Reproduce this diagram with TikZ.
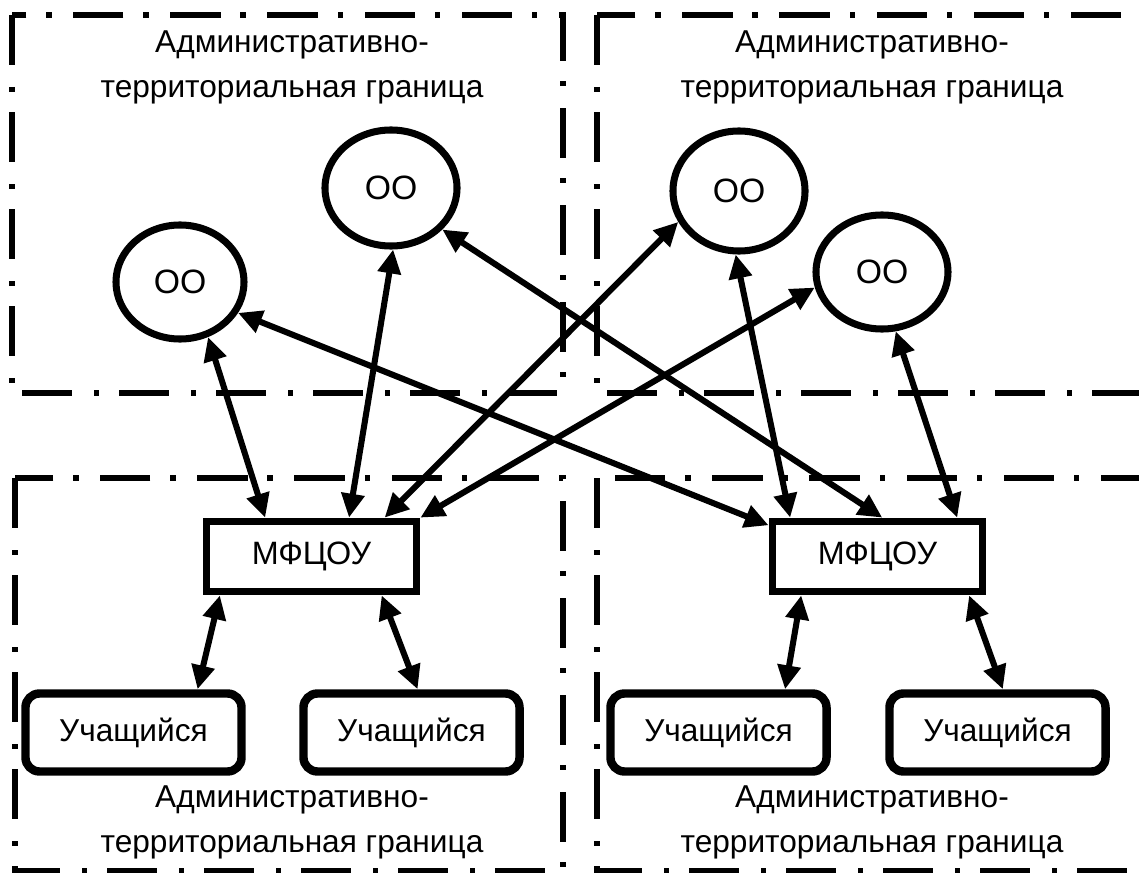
\documentclass[tikz,border=0pt]{standalone}
\usepackage{fontspec}
\setmainfont{Liberation Sans}
\usepackage{tikz}
\usetikzlibrary{shapes.geometric, arrows.meta}
\tikzstyle{arrow} = [line width=4.3pt,{Triangle[length=17pt,width=16pt]}-{Triangle[length=17pt,width=16pt]}]
\tikzstyle{border} = [line width=3.8pt,dash pattern=on 35.6pt off 15.6pt on 3.6pt off 14.2pt]
\tikzstyle{oo} = [ellipse,draw,line width=5pt,font=\fontsize{24}{28}\selectfont]
\tikzstyle{mfc} = [rectangle,draw,line width=5.5pt,minimum width=5.25cm,minimum height=1.75cm,font=\fontsize{23}{26}\selectfont]
\tikzstyle{student} = [rectangle,draw,rounded corners=10pt,line width=6pt,minimum width=5.4cm,minimum height=1.95cm,font=\fontsize{22.5}{26}\selectfont]
\tikzstyle{areatext} = [align=center,font=\fontsize{22.5}{32}\selectfont]

\begin{document}
\begin{tikzpicture}[x=0.025cm,y=-0.025cm]
	\useasboundingbox (0,0) rectangle (1139,873);
	\clip (0,0) rectangle (1139,873);

	% Borders:
	% Four dash-dot areas, the right and lower ones run out of the picture
	\draw[border] (12,15)  rectangle (563,393);
	\draw[border] (597,15) rectangle (1160,393);
	\draw[border] (15,478) rectangle (563,871);
	\draw[border] (597,478) rectangle (1160,871);

	\node[areatext] (tltext) at (292,67)  {Административно-\\территориальная граница};
	\node[areatext] (trtext) at (872,67)  {Административно-\\территориальная граница};
	\node[areatext] (bltext) at (292,822) {Административно-\\территориальная граница};
	\node[areatext] (brtext) at (872,822) {Административно-\\территориальная граница};

	% Organisations:
	\node[oo,minimum width=3.2cm,minimum height=2.85cm] (oo1) at (180,282) {ОО};
	\node[oo,minimum width=3.3cm,minimum height=2.9cm]  (oo2) at (391,188) {ОО};
	\node[oo,minimum width=3.3cm,minimum height=3.0cm]  (oo3) at (739,191) {ОО};
	\node[oo,minimum width=3.3cm,minimum height=2.85cm] (oo4) at (882,272) {ОО};

	% Centres and students:
	\node[mfc] (mfc1) at (311.5,556.5) {МФЦОУ};
	\node[mfc] (mfc2) at (877.5,556.5) {МФЦОУ};

	\node[student] (st1) at (133.5,732.5) {Учащийся};
	\node[student] (st2) at (411.5,732.5) {Учащийся};
	\node[student] (st3) at (718.5,732.5) {Учащийся};
	\node[student] (st4) at (997.5,732.5) {Учащийся};

	% Links:
	\draw[arrow] (oo1.297) -- (mfc1.140);
	\draw[arrow] (oo2.272) -- (mfc1.46);
	\draw[arrow] (oo3.207) -- (mfc1.28);
	\draw[arrow] (oo4.193) -- (mfc1.north east);
	\draw[arrow] (oo1.332) -- (mfc2.164);
	\draw[arrow] (oo2.321) -- (mfc2.83);
	\draw[arrow] (oo3.267) -- (mfc2.156);
	\draw[arrow] (oo4.283) -- (mfc2.26);

	\draw[arrow] (mfc1.203) -- (st1.34);
	\draw[arrow] (mfc1.331) -- (st2.82);
	\draw[arrow] (mfc2.207) -- (st3.33);
	\draw[arrow] (mfc2.337) -- (st4.83);
\end{tikzpicture}
\end{document}
